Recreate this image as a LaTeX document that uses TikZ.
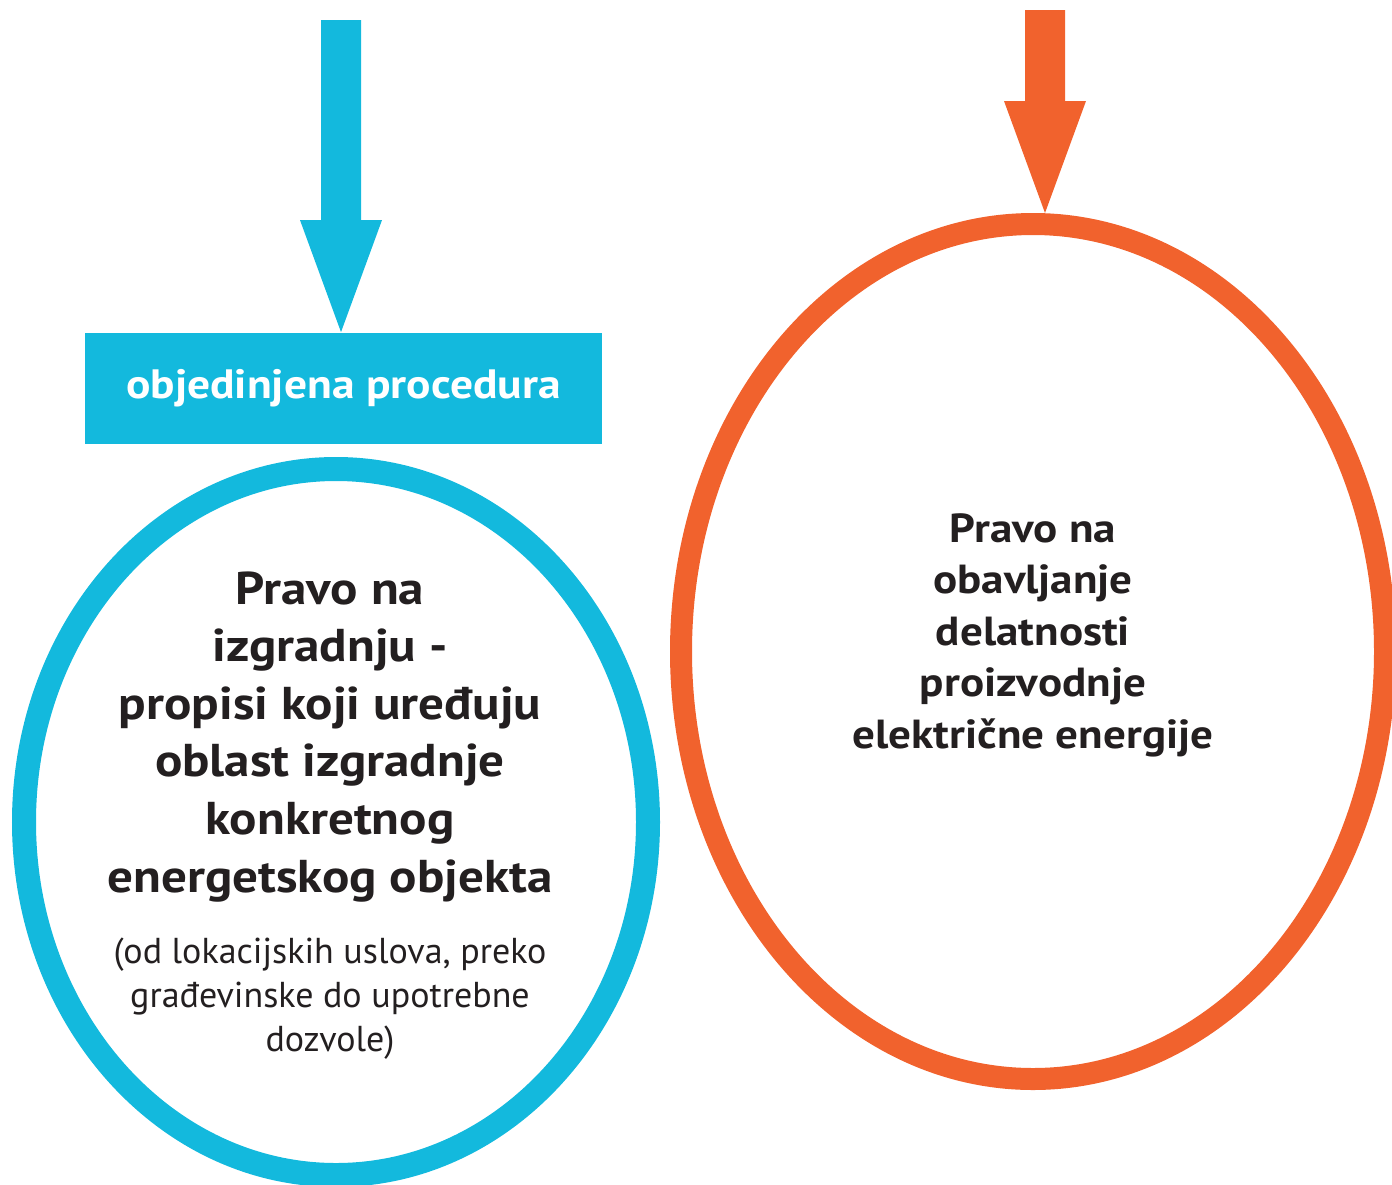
\documentclass[tikz,border=0pt]{standalone}
\usepackage{fontspec}
\setmainfont{PT Sans}[BoldFeatures={FakeStretch=1.11}]
\usetikzlibrary{shapes.geometric,calc}
\definecolor{cblue}{RGB}{19,185,221}
\definecolor{corange}{RGB}{241,98,45}
\definecolor{ctext}{RGB}{35,31,32}
\tikzset{
  procbox/.style={fill=cblue, text=white, minimum width=258.5pt, minimum height=55.5pt, inner sep=0pt,
    font=\fontsize{20.5pt}{24pt}\selectfont\bfseries},
  ring/.style={ellipse, draw=#1, inner sep=0pt},
  boldtxt/.style={text=ctext, align=center, inner sep=0pt, anchor=north},
  blockarrow/.style={fill=#1},
}
\begin{document}
\begin{tikzpicture}[x=0.5pt,y=-0.5pt]
\useasboundingbox (0,0) rectangle (1392,1184);
% box
\node[procbox] (proc) at (343.5,388) {objedinjena procedura};
% ellipses
\node[ring=cblue, line width=12pt, minimum width=312pt, minimum height=353pt] (left) at (336,822) {};
\node[ring=corange, line width=11pt, minimum width=352pt, minimum height=427.5pt] (right) at (1033,651.5) {};
% texts
\node[boldtxt, font=\fontsize{23pt}{28.8pt}\selectfont\bfseries] (ltxt) at (330,571)
  {Pravo na\\izgradnju -\\propisi koji uređuju\\oblast izgradnje\\konkretnog\\energetskog objekta};
\node[boldtxt, font=\fontsize{18pt}{22pt}\selectfont] (lsub) at (330,937)
  {(od lokacijskih uslova, preko\\građevinske do upotrebne\\dozvole)};
\node[boldtxt, font=\fontsize{20.3pt}{25.75pt}\selectfont\bfseries] (rtxt) at (1033,513)
  {Pravo na\\obavljanje\\delatnosti\\proizvodnje\\električne energije};
% arrows
\fill[blockarrow=cblue] ($(proc.north)+(-2.5,0)$) -- ++(-41,-112) -- ++(21,0) -- ++(0,-200) -- ++(40,0) -- ++(0,200) -- ++(21,0) -- cycle;
\fill[blockarrow=corange] ($(right.north)+(12,0)$) -- ++(-41,-112) -- ++(21,0) -- ++(0,-91) -- ++(40,0) -- ++(0,91) -- ++(21,0) -- cycle;
\end{tikzpicture}
\end{document}
